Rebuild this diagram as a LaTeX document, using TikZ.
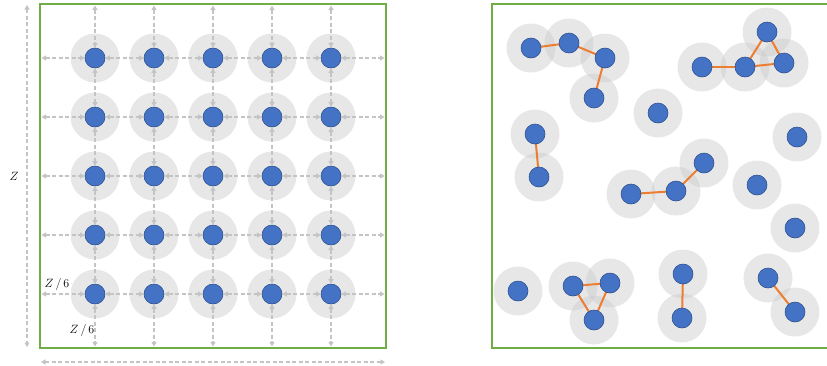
\documentclass[tikz,border=0pt]{standalone}
\usetikzlibrary{arrows.meta}
\definecolor{frameg}{HTML}{70AD47}
\definecolor{dotb}{HTML}{4472C4}
\definecolor{dotbd}{HTML}{2F528F}
\definecolor{bondc}{HTML}{ED7D31}
\definecolor{guidegray}{HTML}{C4C4C4}
\begin{document}
\begin{tikzpicture}[x=1pt,y=-1pt,
  halo/.style={fill=black!22, opacity=0.42},
  dotn/.style={circle, fill=dotb, draw=dotbd, line width=0.6pt, minimum size=20pt, inner sep=0pt},
  guide/.style={draw=guidegray, dash pattern=on 4pt off 2.5pt, line width=1.3pt,
    {Triangle[length=4.5pt,width=5pt]}-{Triangle[length=4.5pt,width=5pt]}},
  bondl/.style={draw=bondc, line width=2pt},
  framel/.style={draw=frameg, line width=2pt},
  lbl/.style={font=\fontsize{13}{15}\selectfont, inner sep=0pt}]
\useasboundingbox (0,0) rectangle (827,365);

% ---------- left panel ----------
\foreach \i in {1,...,5}{
  \foreach \j in {1,...,5}{
    \fill[halo] ({95+59*(\i-1)},{58+59*(\j-1)}) circle (24.5pt);
  }
}
\foreach \i in {1,...,5}{
  \foreach \j in {1,...,5}{
    \node[dotn] (g-\i-\j) at ({95+59*(\i-1)},{58+59*(\j-1)}) {};
  }
  \coordinate (vt-\i) at ({95+59*(\i-1)},5.5);
  \coordinate (vb-\i) at ({95+59*(\i-1)},346.5);
  \coordinate (hl-\i) at (41.5,{58+59*(\i-1)});
  \coordinate (hr-\i) at (384.5,{58+59*(\i-1)});
}
\foreach \i in {1,...,5}{
  \draw[guide] (vt-\i) -- (g-\i-1);
  \draw[guide] (g-\i-5) -- (vb-\i);
  \draw[guide] (hl-\i) -- (g-1-\i);
  \draw[guide] (g-5-\i) -- (hr-\i);
  \foreach \j [evaluate=\j as \k using int(\j+1)] in {1,...,4}{
    \draw[guide] (g-\i-\j) -- (g-\i-\k);
    \draw[guide] (g-\j-\i) -- (g-\k-\i);
  }
}
\draw[framel] (40,4) rectangle (385.5,348);

\coordinate (zt) at (27,5);
\coordinate (zb) at (27,347);
\coordinate (wl) at (41,362);
\coordinate (wr) at (385,362);
\draw[guide] (zt) -- (zb);
\draw[guide] (wl) -- (wr);
\node[lbl] (zlab) at (14,176) {$Z$};
\node[lbl] (z6a) at (57,284) {$Z\,/\,6$};
\node[lbl] (z6b) at (82,330) {$Z\,/\,6$};

% ---------- right panel ----------
\foreach \n/\x/\y in {A/531/48, B/569/43, C/605/58, D/594/98, E/658/113,
  F/702/67, G/745/67, H/767/32, I/784/63,
  J/535/134, K/539/177, L/631/194, M/676/191, N/704/163, O/797/137, P/757/185, Q/795/228,
  R/518/291, S/573/286, T/610/283, U/594/320, V/683/274, W/682/318, X/768/278, Y/795/312}{
  \fill[halo] (\x,\y) circle (24.5pt);
  \coordinate (c\n) at (\x,\y);
}
\foreach \a/\b in {A/B, B/C, C/D, F/G, G/H, H/I, G/I, J/K, L/M, M/N, S/T, S/U, T/U, V/W, X/Y}{
  \draw[bondl] (c\a) -- (c\b);
}
\foreach \n in {A,B,C,D,E,F,G,H,I,J,K,L,M,N,O,P,Q,R,S,T,U,V,W,X,Y}{
  \node[dotn] (d\n) at (c\n) {};
}
\draw[framel] (492,4) rectangle (832,348);
\end{tikzpicture}
\end{document}
